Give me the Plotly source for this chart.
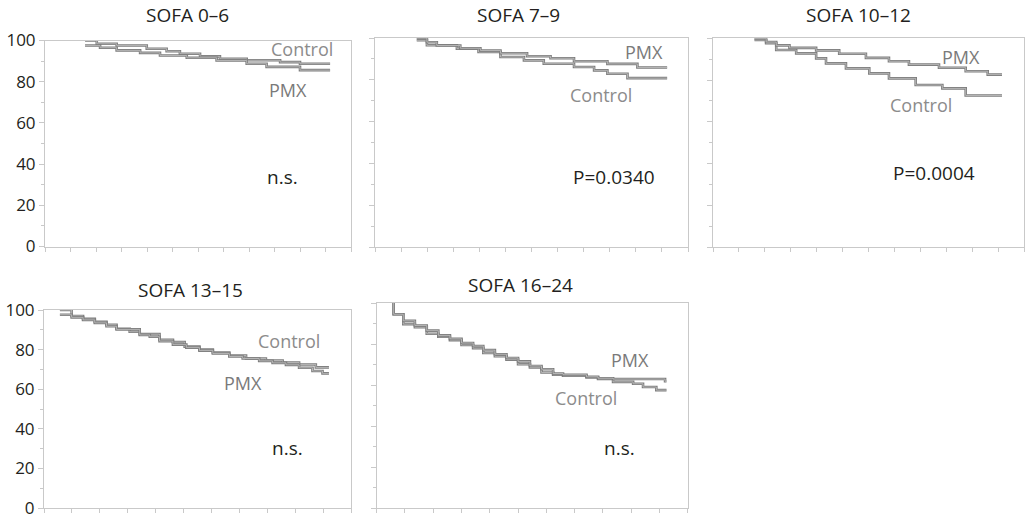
import plotly.graph_objects as go

W, H = 1026, 520

titles = ["SOFA 0–6", "SOFA 7–9", "SOFA 10–12", "SOFA 13–15", "SOFA 16–24"]
pvals = ["n.s.", "P=0.0340", "P=0.0004", "n.s.", "n.s."]
y_ticks = [0, 20, 40, 60, 80, 100]

# Panel 1 (SOFA 0–6), x axis 0..12
p1_ctrl_x = [1.57, 2.03, 2.81, 3.99, 4.77, 5.29, 6.08, 6.86, 7.91, 9.22, 10.0, 11.18]
p1_ctrl_y = [100, 98.4, 97.6, 96.0, 94.8, 93.6, 92.3, 91.1, 90.4, 89.5, 88.7, 88.7]
p1_pmx_x = [1.57, 2.16, 2.81, 3.73, 4.51, 5.56, 6.73, 7.91, 8.69, 10.0, 11.18]
p1_pmx_y = [97.6, 96.5, 95.2, 94.0, 92.7, 91.6, 90.3, 88.7, 87.2, 85.6, 85.6]

# Panel 2 (SOFA 7–9), x axis 0..12
p2_ctrl_x = [1.6, 1.99, 3.14, 3.97, 4.81, 5.71, 6.47, 7.63, 8.4, 8.91, 9.68, 11.2]
p2_ctrl_y = [98.9, 96.5, 94.9, 93.3, 90.9, 89.3, 87.7, 86.1, 84.5, 82.9, 80.8, 80.8]
p2_pmx_x = [1.6, 1.99, 2.37, 3.27, 4.04, 4.81, 5.83, 6.73, 7.63, 8.91, 10.06, 11.2]
p2_pmx_y = [100, 98.0, 96.4, 95.1, 94.0, 92.7, 91.3, 90.3, 88.9, 87.6, 85.9, 85.9]

# Panel 3 (SOFA 10–12), x axis 0..12
p3_ctrl_x = [1.6, 2.05, 2.44, 3.21, 3.98, 4.36, 5.13, 6.03, 6.79, 7.82, 8.85, 9.75, 11.15]
p3_ctrl_y = [99.2, 97.6, 94.4, 92.8, 90.4, 88.0, 85.6, 83.2, 80.8, 77.6, 76.0, 72.6, 72.6]
p3_pmx_x = [1.6, 2.05, 2.44, 2.95, 3.98, 4.87, 5.9, 6.79, 7.56, 8.72, 9.75, 10.6, 11.15]
p3_pmx_y = [100, 98.2, 96.6, 95.4, 94.2, 92.6, 90.6, 89.0, 87.4, 85.9, 84.2, 82.6, 82.6]

# Panel 4 (SOFA 13–15), x axis 0..11
p4_ctrl_x = [0.57, 0.99, 1.4, 1.82, 2.24, 2.6, 3.07, 3.43, 4.14, 4.62, 5.04, 5.57, 6.05,
             6.64, 7.24, 7.95, 8.55, 9.14, 9.74, 10.21]
p4_ctrl_y = [100, 97.0, 95.5, 94.0, 92.5, 90.5, 89.0, 87.8, 85.0, 83.8, 81.5, 80.0, 78.5,
             77.0, 75.5, 74.5, 73.5, 72.5, 71.0, 71.0]
p4_pmx_x = [0.57, 0.99, 1.4, 1.82, 2.24, 2.6, 3.43, 3.79, 4.14, 4.62, 5.1, 5.57, 6.05,
            6.64, 7.12, 7.71, 8.19, 8.67, 9.14, 9.62, 9.98, 10.21]
p4_pmx_y = [97.6, 96.3, 95.0, 93.5, 91.8, 90.2, 87.4, 86.5, 84.3, 82.5, 81.0, 79.5, 78.0,
            76.5, 75.5, 74.3, 73.3, 72.3, 70.8, 69.2, 68.0, 68.0]

# Panel 5 (SOFA 16–24), x axis 0..11
p5_ctrl_x = [0.59, 0.6, 0.94, 1.35, 1.77, 2.18, 2.59, 3.0, 3.41, 3.77, 4.18, 4.59, 5.0,
             5.42, 5.83, 6.24, 6.59, 7.42, 7.83, 8.36, 9.07, 9.42, 9.89, 10.25]
p5_ctrl_y = [100, 94.5, 89.7, 88.2, 85.0, 83.5, 81.9, 79.5, 78.0, 75.6, 74.0, 72.4, 70.1,
             68.5, 66.1, 65.0, 64.5, 63.7, 62.9, 61.5, 60.6, 59.0, 57.5, 57.5]
p5_pmx_x = [0.59, 0.6, 0.94, 1.35, 1.77, 2.18, 2.59, 3.0, 3.41, 3.77, 4.18, 4.59, 5.0,
            5.42, 5.83, 6.24, 6.59, 7.42, 7.83, 8.36, 10.2, 10.25]
p5_pmx_y = [100, 94.5, 91.3, 89.0, 86.5, 84.2, 82.5, 80.5, 79.0, 77.0, 75.0, 73.2, 71.5,
            69.3, 67.7, 65.6, 65.0, 64.0, 63.3, 62.9, 61.8, 61.8]

ctrl_x = [p1_ctrl_x, p2_ctrl_x, p3_ctrl_x, p4_ctrl_x, p5_ctrl_x]
ctrl_y = [p1_ctrl_y, p2_ctrl_y, p3_ctrl_y, p4_ctrl_y, p5_ctrl_y]
pmx_x = [p1_pmx_x, p2_pmx_x, p3_pmx_x, p4_pmx_x, p5_pmx_x]
pmx_y = [p1_pmx_y, p2_pmx_y, p3_pmx_y, p4_pmx_y, p5_pmx_y]

x_max = [12, 12, 12, 11, 11]

# label positions (data coords)
ctrl_lab = [(10.07, 96), (8.68, 72.7), (8.01, 68), (8.79, 84.5), (7.42, 53.5)]
pmx_lab = [(9.54, 75.8), (10.32, 93.4), (9.55, 91.2), (7.12, 62.9), (8.95, 72.4)]
p_lab = [(9.33, 33.7), (9.15, 33.5), (8.53, 35.5), (8.71, 30.1), (8.6, 29.1)]

# pixel boxes: left, right, top(100), bottom(0)
boxes = [(45, 351, 40.5, 246.5), (375, 688, 38, 247), (713, 1024, 38.3, 247),
         (44, 351, 310, 508), (376.7, 687.7, 303, 508)]
title_pos = [(187, 15), (518, 15), (858, 15), (190, 290), (520, 285)]

fig = go.Figure()
layout = dict(template="none", width=W, height=H, margin=dict(l=0, r=0, t=0, b=0),
              paper_bgcolor="white", plot_bgcolor="white", showlegend=False,
              font=dict(family="Open Sans", color="#231f20"))
annotations = []
LINE = "#c9c9c9"
for i in range(5):
    n = "" if i == 0 else str(i + 1)
    xa, ya = "x" + n, "y" + n
    l, r, t, b = boxes[i]
    layout["xaxis" + n] = dict(domain=[l / W, r / W], range=[0, x_max[i]], anchor=ya,
                               automargin=False,
                               showgrid=False, zeroline=False, showline=True, mirror=True,
                               linecolor=LINE, linewidth=1, ticks="outside", ticklen=4,
                               tickcolor=LINE, dtick=1, tick0=0, showticklabels=False)
    layout["yaxis" + n] = dict(domain=[1 - b / H, 1 - t / H], range=[0, 100], anchor=xa,
                               automargin=False, ticklabeloverflow="allow",
                               showgrid=False, zeroline=False, showline=True, mirror=True,
                               linecolor=LINE, linewidth=1, ticks="outside", ticklen=5,
                               tickcolor=LINE, tickvals=y_ticks,
                               showticklabels=(i in (0, 3)),
                               tickfont=dict(size=17, color="#231f20"),
                               minor=dict(dtick=10, ticks="outside", ticklen=3, tickcolor=LINE))
    for xs, ys in ((ctrl_x[i], ctrl_y[i]), (pmx_x[i], pmx_y[i])):
        fig.add_trace(go.Scatter(x=xs, y=ys, mode="lines", line_shape="hv",
                                 line=dict(color="#7d7d7d", width=2.6), xaxis=xa, yaxis=ya,
                                 hoverinfo="skip"))
        fig.add_trace(go.Scatter(x=xs, y=ys, mode="lines", line_shape="hv",
                                 line=dict(color="#c4c4c4", width=0.8), xaxis=xa, yaxis=ya,
                                 hoverinfo="skip"))
    common = dict(showarrow=False, xanchor="center", yanchor="middle")
    annotations.append(dict(text="Control", x=ctrl_lab[i][0], y=ctrl_lab[i][1], xref=xa, yref=ya,
                            font=dict(size=18, color="#8c8c8c"), **common))
    annotations.append(dict(text="PMX", x=pmx_lab[i][0], y=pmx_lab[i][1], xref=xa, yref=ya,
                            font=dict(size=18, color="#7a7a7a"), **common))
    annotations.append(dict(text=pvals[i], x=p_lab[i][0], y=p_lab[i][1], xref=xa, yref=ya,
                            font=dict(size=19, color="#231f20"), **common))
    annotations.append(dict(text=titles[i], x=title_pos[i][0] / W, y=1 - title_pos[i][1] / H,
                            xref="paper", yref="paper",
                            font=dict(size=19, color="#231f20"), **common))
layout["annotations"] = annotations
fig.update_layout(**layout)
fig.write_html("out.html", config={"displayModeBar": False},
               post_script="document.body.style.margin='0px';")
